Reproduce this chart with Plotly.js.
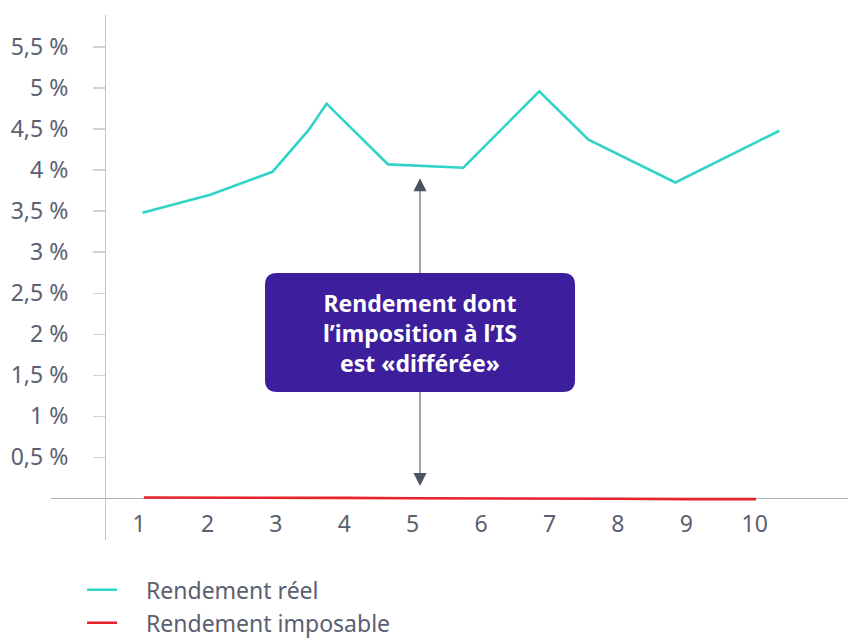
<!DOCTYPE html>
<html lang="fr">
<head>
<meta charset="utf-8">
<script src="https://cdn.plot.ly/plotly-3.0.1.min.js"></script>
<style>
  html, body { margin: 0; padding: 0; background: #ffffff; }
  #chart { width: 850px; height: 639px; }
</style>
</head>
<body>
<div id="chart"></div>
<script>
// Years 1 to 10 on the horizontal axis
const categories = ['1', '2', '3', '4', '5', '6', '7', '8', '9', '10'];
const categoryPos = [1, 2, 3, 4, 5, 6, 7, 8, 9, 10];
// Tick marks sit between the years
const boundaryPos = [1.5, 2.5, 3.5, 4.5, 5.5, 6.5, 7.5, 8.5, 9.5, 10.5];

// Percentage ticks
const yTickVals = [0.5, 1, 1.5, 2, 2.5, 3, 3.5, 4, 4.5, 5, 5.5];
const yTickText = ['0,5 %', '1 %', '1,5 %', '2 %', '2,5 %', '3 %', '3,5 %', '4 %', '4,5 %', '5 %', '5,5 %'];

// Rendement réel (%)
const realX = [1.05, 2.04, 2.95, 3.48, 3.74, 4.64, 5.74, 6.85, 7.57, 8.84, 10.36];
const realY = [3.48, 3.70, 3.98, 4.49, 4.81, 4.07, 4.03, 4.96, 4.37, 3.85, 4.48];

// Rendement imposable (%)
const taxX = [1.07, 2, 3, 4, 5, 6, 7, 8, 9, 10.02];
const taxY = [0.01, 0.01, 0.005, 0.005, 0, 0, 0, -0.005, -0.01, -0.01];

// Deferred-tax callout
const calloutLines = ['Rendement dont', 'l’imposition à l’IS', 'est «différée»'];
const calloutX = 5.107;
const calloutY = 2.02;
const arrowTop = 3.90;
const arrowBottom = 0.15;

const FONT = '"Noto Sans", "Open Sans", sans-serif';
const LABEL_COLOR = '#5a6070';
const TICK_COLOR = '#cfd2d6';
const AXIS_COLOR = '#aeb1b7';
const X_RANGE = [-0.288, 11.364];
const Y_RANGE = [-0.508, 5.891];
const X_AXIS_POS = 0.0794;   // paper fraction where y = 0
const Y_AXIS_POS = 0.0676;   // paper fraction where x = 0.5

const traces = [
  {
    type: 'scatter', mode: 'lines',
    x: realX, y: realY,
    name: '\u00a0\u00a0\u00a0\u00a0Rendement réel',
    line: { color: '#2fd4c7', width: 2.6 },
    hoverinfo: 'skip'
  },
  {
    type: 'scatter', mode: 'lines',
    x: taxX, y: taxY,
    name: '\u00a0\u00a0\u00a0\u00a0Rendement imposable',
    line: { color: '#e8232c', width: 2.6 },
    hoverinfo: 'skip'
  }
];

const baseX = {
  range: X_RANGE, fixedrange: true,
  showgrid: false, zeroline: false, showline: false,
  anchor: 'free', position: X_AXIS_POS
};
const baseY = {
  range: Y_RANGE, fixedrange: true,
  showgrid: false, zeroline: false, showline: false,
  anchor: 'free', position: Y_AXIS_POS
};

const layout = {
  width: 850, height: 639,
  margin: { l: 51, r: 2, t: 15, b: 99, pad: 0, autoexpand: false },
  paper_bgcolor: '#ffffff', plot_bgcolor: '#ffffff',
  font: { family: FONT, color: LABEL_COLOR, size: 23 },
  showlegend: true,
  legend: {
    x: 0.039, y: -0.054, xanchor: 'left', yanchor: 'top',
    bgcolor: 'rgba(0,0,0,0)',
    font: { family: FONT, size: 23, color: LABEL_COLOR },
    tracegroupgap: 0,
    itemclick: false, itemdoubleclick: false
  },
  xaxis: Object.assign({}, baseX, {
    tickmode: 'array', tickvals: categoryPos, ticktext: categories,
    ticks: '', ticklabelstandoff: 10,
    tickfont: { family: FONT, size: 23, color: LABEL_COLOR }
  }),
  xaxis2: Object.assign({}, baseX, {
    overlaying: 'x',
    tickmode: 'array', tickvals: boundaryPos,
    ticks: 'outside', ticklen: 12, tickwidth: 1.4, tickcolor: TICK_COLOR,
    showticklabels: false
  }),
  xaxis3: Object.assign({}, baseX, {
    overlaying: 'x',
    tickmode: 'array', tickvals: boundaryPos,
    ticks: 'inside', ticklen: 9, tickwidth: 1.4, tickcolor: TICK_COLOR,
    showticklabels: false
  }),
  yaxis: Object.assign({}, baseY, {
    tickmode: 'array', tickvals: yTickVals, ticktext: yTickText,
    ticks: 'outside', ticklen: 12, tickwidth: 1.4, tickcolor: TICK_COLOR,
    ticklabelstandoff: 20,
    tickfont: { family: FONT, size: 23, color: LABEL_COLOR },
    showline: true, linecolor: '#c2c5ca', linewidth: 1.4,
    zeroline: true, zerolinecolor: AXIS_COLOR, zerolinewidth: 1.4
  }),
  yaxis2: Object.assign({}, baseY, {
    overlaying: 'y',
    tickmode: 'array', tickvals: yTickVals,
    ticks: 'inside', ticklen: 12, tickwidth: 1.4, tickcolor: TICK_COLOR,
    showticklabels: false
  }),
  shapes: [
    // arrow stem between the two curves
    {
      type: 'line', layer: 'above',
      xref: 'x', yref: 'y',
      x0: calloutX, x1: calloutX, y0: arrowBottom + 0.15, y1: arrowTop - 0.15,
      line: { color: '#9ea3ab', width: 2 }
    },
    // rounded callout box
    {
      type: 'path', layer: 'above',
      xref: 'x', yref: 'y',
      xsizemode: 'pixel', ysizemode: 'pixel',
      xanchor: calloutX, yanchor: calloutY,
      path: 'M -143,-59.5 H 143 Q 155,-59.5 155,-47.5 V 47.5 Q 155,59.5 143,59.5 ' +
            'H -143 Q -155,59.5 -155,47.5 V -47.5 Q -155,-59.5 -143,-59.5 Z',
      fillcolor: '#3d1e9c', line: { width: 0 }
    }
  ],
  annotations: [
    {
      xref: 'x', yref: 'y', x: calloutX, y: calloutY,
      text: calloutLines.join('<br>'),
      showarrow: false, align: 'center',
      font: { family: FONT, size: 23, color: '#ffffff', weight: 'bold' }
    },
    {
      xref: 'x', yref: 'y', x: calloutX, y: arrowTop,
      ax: 0, ay: 14, text: '',
      showarrow: true, arrowhead: 2, arrowsize: 1.3, arrowwidth: 2,
      arrowcolor: '#4a5263', standoff: 0
    },
    {
      xref: 'x', yref: 'y', x: calloutX, y: arrowBottom,
      ax: 0, ay: -14, text: '',
      showarrow: true, arrowhead: 2, arrowsize: 1.3, arrowwidth: 2,
      arrowcolor: '#4a5263', standoff: 0
    }
  ]
};

Plotly.newPlot('chart', traces, layout, { displayModeBar: false, staticPlot: true });
</script>
</body>
</html>
